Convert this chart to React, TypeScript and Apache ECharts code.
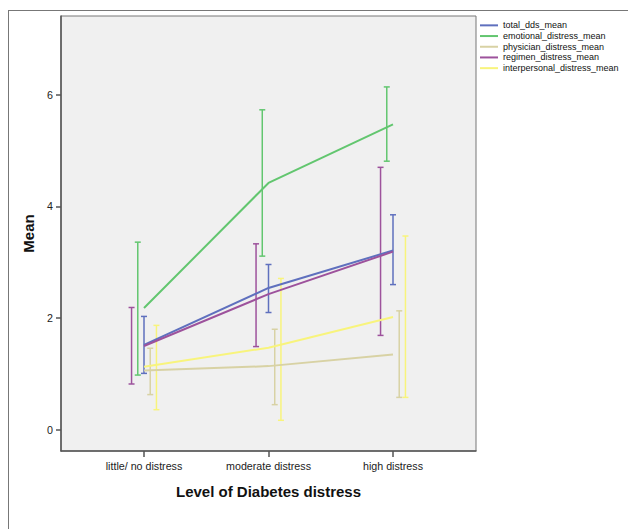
import React, { useEffect, useRef } from "react";
import * as echarts from "echarts";

const categories = ["little/ no distress", "moderate distress", "high distress"];
const yTicks = [0, 2, 4, 6];

const seriesNames = [
  "total_dds_mean",
  "emotional_distress_mean",
  "physician_distress_mean",
  "regimen_distress_mean",
  "interpersonal_distress_mean",
];
const seriesColors = ["#5f70be", "#62c66f", "#d8d2a4", "#9d529c", "#f8f47c"];
const dodge = [0, -0.05, 0.05, -0.1, 0.1];

const totalMean = [1.52, 2.54, 3.21];
const totalLow = [1.01, 2.1, 2.6];
const totalHigh = [2.03, 2.96, 3.85];

const emotionalMean = [2.18, 4.42, 5.47];
const emotionalLow = [0.98, 3.11, 4.81];
const emotionalHigh = [3.36, 5.73, 6.14];

const physicianMean = [1.06, 1.14, 1.35];
const physicianLow = [0.63, 0.45, 0.58];
const physicianHigh = [1.46, 1.8, 2.13];

const regimenMean = [1.5, 2.43, 3.19];
const regimenLow = [0.82, 1.49, 1.69];
const regimenHigh = [2.19, 3.33, 4.7];

const interpersonalMean = [1.13, 1.47, 2.02];
const interpersonalLow = [0.36, 0.17, 0.58];
const interpersonalHigh = [1.87, 2.71, 3.47];

const means = [totalMean, emotionalMean, physicianMean, regimenMean, interpersonalMean];
const lows = [totalLow, emotionalLow, physicianLow, regimenLow, interpersonalLow];
const highs = [totalHigh, emotionalHigh, physicianHigh, regimenHigh, interpersonalHigh];

const FONT = "'Liberation Sans', Arial, sans-serif";

export default function App() {
  const ref = useRef<HTMLDivElement>(null);
  useEffect(() => {
    if (!ref.current) return;
    const chart = echarts.init(ref.current, null, { renderer: "svg" });

    const lineSeries: any[] = seriesNames.map((name, i) => ({
      name,
      type: "line",
      data: means[i].map((v, k) => [k, v]),
      symbol: "none",
      lineStyle: { color: seriesColors[i], width: 2 },
      itemStyle: { color: seriesColors[i] },
      z: 3,
    }));

    const errSeries: any[] = seriesNames.map((name, i) => ({
      name: name + "_err",
      type: "custom",
      data: means[i].map((_, k) => [k + dodge[i], lows[i][k], highs[i][k]]),
      encode: { x: 0, y: [1, 2] },
      z: 2,
      renderItem: (params: any, api: any) => {
        const x = api.value(0);
        const lo = api.value(1);
        const hi = api.value(2);
        const pTop = api.coord([x, hi]);
        const pBot = api.coord([x, lo]);
        const hw = 3;
        const st = { stroke: seriesColors[i], lineWidth: 1.5 };
        return {
          type: "group",
          children: [
            { type: "line", shape: { x1: pTop[0], y1: pTop[1], x2: pBot[0], y2: pBot[1] }, style: st },
            { type: "line", shape: { x1: pTop[0] - hw, y1: pTop[1], x2: pTop[0] + hw, y2: pTop[1] }, style: st },
            { type: "line", shape: { x1: pBot[0] - hw, y1: pBot[1], x2: pBot[0] + hw, y2: pBot[1] }, style: st },
          ],
        };
      },
    }));

    chart.setOption({
      animation: false,
      backgroundColor: "transparent",
      textStyle: { fontFamily: FONT },
      grid: {
        left: 61,
        top: 16,
        right: 152,
        bottom: 78,
        show: true,
        backgroundColor: "#f0f0f0",
        borderColor: "#777",
        borderWidth: 1,
      },
      legend: {
        orient: "vertical",
        left: 475,
        top: 15,
        itemWidth: 18,
        itemHeight: 2,
        itemGap: 0,
        icon: "rect",
        data: seriesNames,
        textStyle: { fontSize: 9, lineHeight: 10.7, color: "#111", fontFamily: FONT },
      },
      xAxis: {
        type: "value",
        min: -2 / 3,
        max: 8 / 3,
        name: "Level of Diabetes distress",
        nameLocation: "middle",
        nameGap: 33,
        nameTextStyle: { fontSize: 15, fontWeight: "bold", color: "#111", fontFamily: FONT },
        axisLine: { show: true, onZero: false, lineStyle: { color: "#555", width: 1.5 } },
        axisTick: { show: true, customValues: [0, 1, 2], length: 6, lineStyle: { color: "#555", width: 1.5 } },
        axisLabel: {
          customValues: [0, 1, 2],
          formatter: (v: number) => categories[Math.round(v)] ?? "",
          fontSize: 10.7,
          color: "#222",
          margin: 9,
          fontFamily: FONT,
        },
        splitLine: { show: false },
      },
      yAxis: {
        type: "value",
        min: -0.38,
        max: 7.41,
        name: "Mean",
        nameLocation: "middle",
        nameGap: 22,
        nameTextStyle: { fontSize: 15, fontWeight: "bold", color: "#111", fontFamily: FONT },
        axisLine: { show: true, onZero: false, lineStyle: { color: "#555", width: 1.5 } },
        axisTick: { show: true, customValues: yTicks, length: 5, lineStyle: { color: "#555", width: 1.5 } },
        axisLabel: {
          customValues: yTicks,
          fontSize: 10.7,
          color: "#222",
          margin: 8,
          fontFamily: FONT,
        },
        splitLine: { show: false },
      },
      series: [...errSeries, ...lineSeries],
    });
    return () => chart.dispose();
  }, []);

  return (
    <div style={{ position: "absolute", left: 0, top: 0, width: 628, height: 529, overflow: "hidden", background: "#fff" }}>
      <div
        style={{
          position: "absolute",
          left: 8,
          top: 10,
          width: 700,
          height: 600,
          border: "1px solid #777",
          background: "#fff",
        }}
      />
      <div ref={ref} style={{ position: "absolute", left: 0, top: 0, width: 628, height: 529 }} />
    </div>
  );
}
